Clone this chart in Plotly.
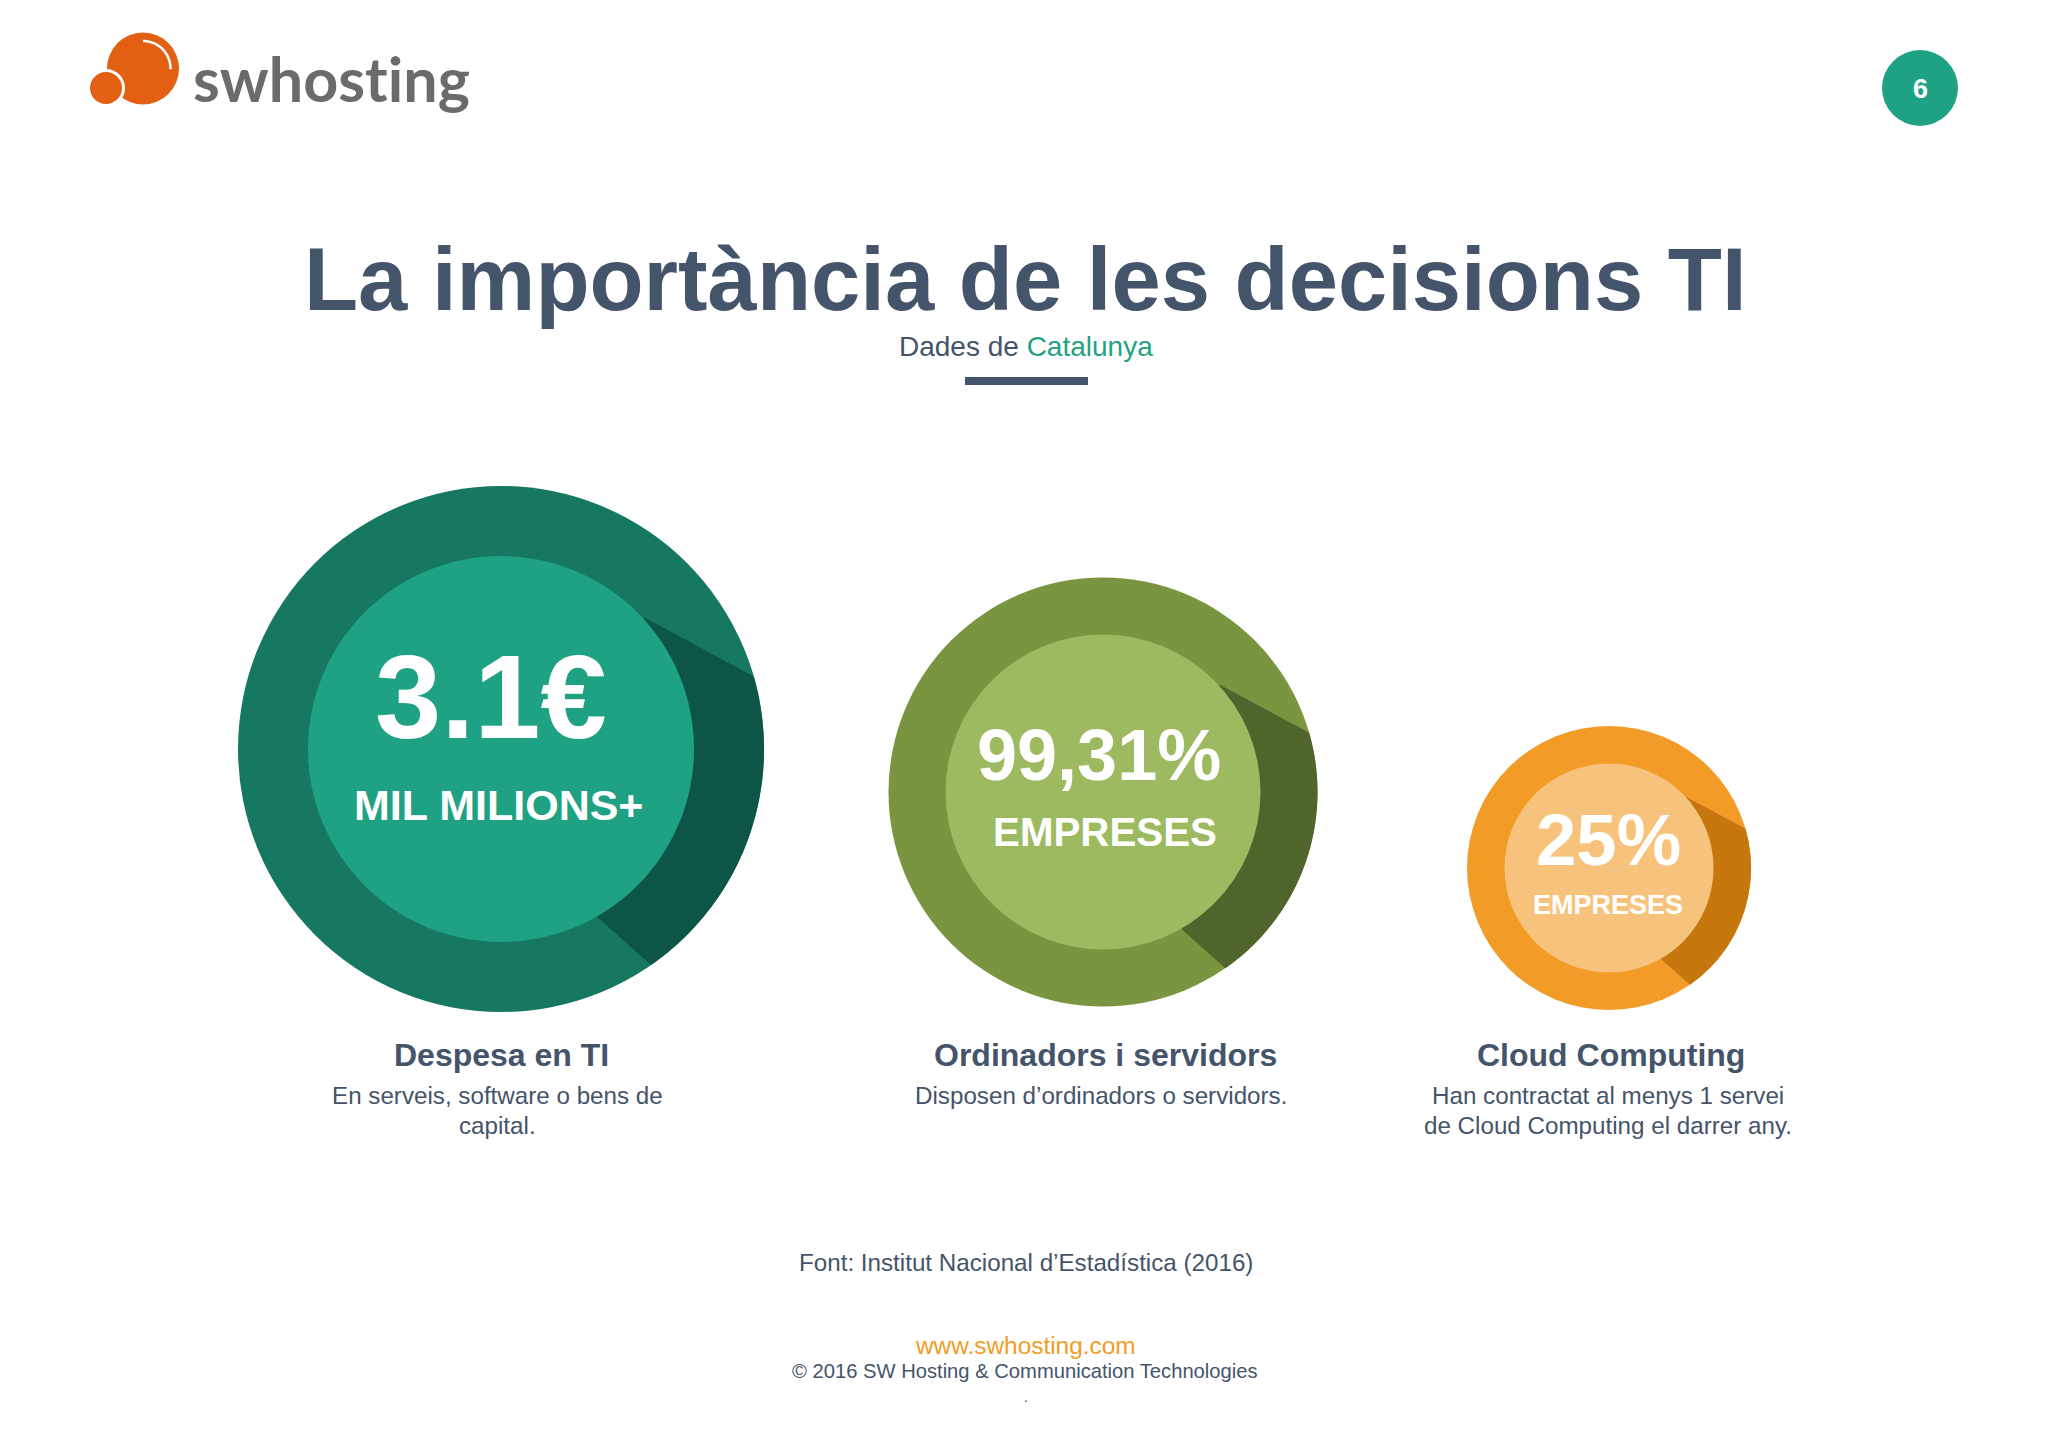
import numpy as np
import plotly.graph_objects as go

W, H = 2048, 1448
FONT = "Liberation Sans"
SLATE = "#44546A"

# the three figures on the slide
big_values = ["3.1€", "99,31%", "25%"]
big_units = ["MIL MILIONS+", "EMPRESES", "EMPRESES"]
headings = ["Despesa en TI", "Ordinadors i servidors", "Cloud Computing"]
descriptions = [
    ["En serveis, software o bens de", "capital."],
    ["Disposen d’ordinadors o servidors."],
    ["Han contractat al menys 1 servei", "de Cloud Computing el darrer any."],
]
ring_colors = ["#167860", "#79953F", "#F29B26"]
inner_colors = ["#1FA283", "#9DBA60", "#F7C37C"]
shadow_colors = ["#0D5546", "#50652C", "#C6770D"]

# layout of the circles, pixels
cx = [501, 1103, 1609]
cy = [749, 792, 868]
outer_r = [263, 214.5, 142]
inner_r = [193, 157.5, 104.5]
value_pos = [(491, 696, 119), (1099, 755, 72), (1608, 839, 72.5)]
unit_pos = [(498, 805, 43), (1105, 832, 40.3), (1608, 905, 27)]
heading_x = [501, 1105, 1611]
desc_x = [497, 1101, 1608]

fig = go.Figure()


def circle(x, y, r, color):
    fig.add_shape(type="circle", x0=x - r, x1=x + r, y0=y - r, y1=y + r,
                  fillcolor=color, line_width=0)


def label(text, x, y, size, color=SLATE, bold=False, family=FONT):
    t = f"<b>{text}</b>" if bold else text
    fig.add_annotation(x=x, y=y, text=t, showarrow=False, xanchor="center", yanchor="middle",
                       align="center", font=dict(family=family, size=size, color=color))


# ---- logo
circle(143, 68.5, 36, "#E35F12")
circle(106, 88, 19, "#FFFFFF")
circle(106, 88, 16, "#E35F12")
a = np.linspace(-1.57, 0.03, 20)
fig.add_shape(type="path", line=dict(color="#FFFFFF", width=2.5),
              path="M " + " L ".join(f"{143 + 27.5 * np.cos(t):.1f},{68.5 + 27.5 * np.sin(t):.1f}" for t in a))
# zero width non joiner keeps Lato from drawing the "ti" ligature
label("swhos&#8204;t&#8204;ing", 331, 78, 61, "#6B6B6B", True, "Lato")

# ---- page number
circle(1920, 88, 38, "#1FA283")
label("6", 1920, 89, 27, "#FFFFFF", True)

# ---- title block
label("La importància de les decisions TI", 1025, 279, 88.6, SLATE, True)
label(f"Dades de <span style='color:#1FA283'>Catalunya</span>", 1026, 346, 28)
fig.add_shape(type="rect", x0=965, x1=1088, y0=377, y1=385, fillcolor=SLATE, line_width=0)

# ---- circles
for i in range(3):
    x, y, r = cx[i], cy[i], outer_r[i]
    circle(x, y, r, ring_colors[i])
    # shadow wedge, hidden behind the inner disc on its left side
    t0 = np.arctan2(-0.275, 0.958)
    t1 = np.arctan2(0.817, 0.567)
    arc = [(x + r * np.cos(t), y + r * np.sin(t)) for t in np.linspace(t0, t1, 60)]
    pts = [(x + 0.545 * r, y - 0.50 * r)] + arc + [(x + 0.367 * r, y + 0.64 * r)]
    fig.add_shape(type="path", fillcolor=shadow_colors[i], line_width=0,
                  path="M " + " L ".join(f"{px:.1f},{py:.1f}" for px, py in pts) + " Z")
    circle(x, y, inner_r[i], inner_colors[i])
    vx, vy, vs = value_pos[i]
    label(big_values[i], vx, vy, vs, "#FFFFFF", True)
    ux, uy, us = unit_pos[i]
    label(big_units[i], ux, uy, us, "#FFFFFF", True)
    label(headings[i], heading_x[i], 1055, 32, SLATE, True)
    for n, line in enumerate(descriptions[i]):
        label(line, desc_x[i], 1095 + n * 30, 24.2)

# ---- footer
label("Font: Institut Nacional d’Estadística (2016)", 1026, 1262, 24.2)
label("www.swhosting.com", 1025, 1345, 24.4, "#F29B26")
label("© 2016 SW Hosting &amp; Communication Technologies", 1025, 1371, 20.2)
label(".", 1026, 1397, 14)

fig.update_layout(
    width=W, height=H, margin=dict(l=0, r=0, t=0, b=0),
    paper_bgcolor="#FFFFFF", plot_bgcolor="#FFFFFF", showlegend=False,
    xaxis=dict(range=[0, W], visible=False, fixedrange=True),
    yaxis=dict(range=[H, 0], visible=False, fixedrange=True),
)
fig.write_html("out.html", config={"displayModeBar": False},
               post_script="document.body.style.margin='0';")
